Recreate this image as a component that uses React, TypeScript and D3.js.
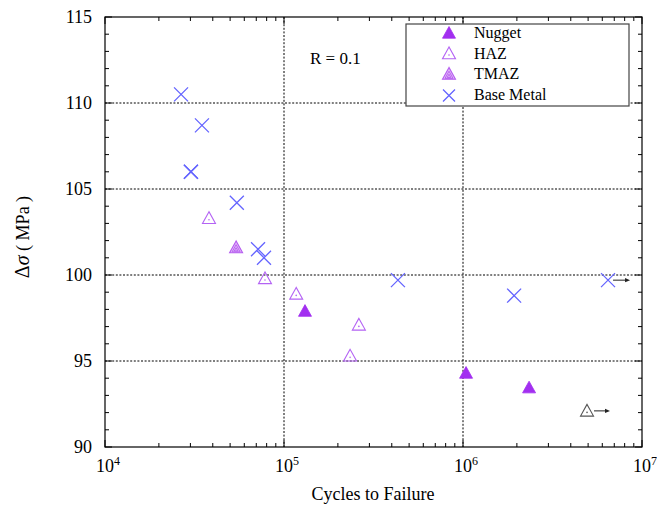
import React from "react";
import * as d3 from "d3";

// data (cycles, stress range MPa)
const nuggetCycles = [131000, 1040000, 2340000];
const nuggetStress = [97.9, 94.3, 93.45];

const hazCycles = [38100, 78300, 117000, 262000, 234000];
const hazStress = [103.3, 99.8, 98.9, 97.1, 95.3];

const tmazCycles = [54000];
const tmazStress = [101.6];

const baseCycles = [26600, 34800, 30200, 30200, 54500, 71600, 77300, 433000, 1930000, 6460000];
const baseStress = [110.5, 108.7, 106.0, 106.0, 104.2, 101.5, 101.0, 99.7, 98.8, 99.7];
const baseRunout = [false, false, false, false, false, false, false, false, false, true];

const runoutCycles = [4930000];
const runoutStress = [92.1];

const xDecades = [4, 5, 6, 7];
const yMajor = [90, 95, 100, 105, 110, 115];
const legendItems = ["Nugget", "HAZ", "TMAZ", "Base Metal"];

const W = 657;
const H = 506;
const m = { left: 105, right: 642, top: 17, bottom: 447 };
const serif = '"Liberation Serif", "DejaVu Serif", "Times New Roman", Times, serif';

const C_NUGGET = "#a22ff0";
const C_HAZ = "#b463f4";
const C_TMAZ = "#b55cf0";
const C_BASE = "#6464ff";

const tri = (cx: number, cy: number, s = 6.5) =>
  `M${cx},${cy - s}L${cx - s},${cy + s * 0.8}L${cx + s},${cy + s * 0.8}Z`;

const Cross = ({ x, y, s = 7 }: { x: number; y: number; s?: number }) => (
  <path
    d={`M${x - s},${y - s}L${x + s},${y + s}M${x - s},${y + s}L${x + s},${y - s}`}
    stroke={C_BASE}
    strokeWidth={1.3}
    fill="none"
  />
);

const Nugget = ({ x, y }: { x: number; y: number }) => <path d={tri(x, y)} fill={C_NUGGET} stroke={C_NUGGET} strokeWidth={0.8} />;

const Haz = ({ x, y, color = C_HAZ }: { x: number; y: number; color?: string }) => (
  <g>
    <path d={tri(x, y)} fill="none" stroke={color} strokeWidth={1.1} />
    <circle cx={x} cy={y + 1.5} r={0.8} fill={color} />
  </g>
);

const Tmaz = ({ x, y }: { x: number; y: number }) => (
  <g>
    <path d={tri(x, y)} fill="#e3b8f8" stroke={C_TMAZ} strokeWidth={1.1} />
    <path d={tri(x, y + 1.2, 4)} fill="none" stroke={C_TMAZ} strokeWidth={0.9} />
    <path d={tri(x, y + 2, 1.8)} fill="none" stroke={C_TMAZ} strokeWidth={0.9} />
  </g>
);

const Arrow = ({ x, y, len = 14 }: { x: number; y: number; len?: number }) => (
  <g>
    <line x1={x} y1={y} x2={x + len} y2={y} stroke="#222" strokeWidth={1} />
    <path d={`M${x + len + 3},${y}L${x + len - 2},${y - 2.2}L${x + len - 2},${y + 2.2}Z`} fill="#222" />
  </g>
);

export default function App() {
  const x = d3.scaleLog().domain([1e4, 1e7]).range([m.left, m.right]);
  const y = d3.scaleLinear().domain([90, 115]).range([m.bottom, m.top]);

  const xMinor: number[] = [];
  xDecades.slice(0, -1).forEach((d) => {
    for (let k = 2; k <= 9; k++) xMinor.push(k * Math.pow(10, d));
  });
  const yMinor = d3.range(90, 116, 1).filter((v) => v % 5 !== 0);

  const grid = "2,1.6";

  return (
    <div style={{ position: "absolute", left: 0, top: 0, fontFamily: serif }}>
      <svg width={W} height={H} style={{ display: "block", background: "#fff", fontFamily: serif }}>
        {/* grid */}
        {[1e5, 1e6].map((v) => (
          <line key={"gx" + v} x1={x(v)} x2={x(v)} y1={m.top} y2={m.bottom} stroke="#000" strokeWidth={1} strokeDasharray={grid} />
        ))}
        {[95, 100, 105, 110].map((v) => (
          <line key={"gy" + v} x1={m.left} x2={m.right} y1={y(v)} y2={y(v)} stroke="#000" strokeWidth={1} strokeDasharray={grid} />
        ))}

        {/* ticks */}
        {xMinor.map((v) => (
          <g key={"xm" + v}>
            <line x1={x(v)} x2={x(v)} y1={m.bottom} y2={m.bottom - 4} stroke="#000" />
            <line x1={x(v)} x2={x(v)} y1={m.top} y2={m.top + 4} stroke="#000" />
          </g>
        ))}
        {xDecades.map((d) => (
          <g key={"xM" + d}>
            <line x1={x(10 ** d)} x2={x(10 ** d)} y1={m.bottom} y2={m.bottom - 7} stroke="#000" />
            <line x1={x(10 ** d)} x2={x(10 ** d)} y1={m.top} y2={m.top + 7} stroke="#000" />
          </g>
        ))}
        {yMinor.map((v) => (
          <g key={"ym" + v}>
            <line x1={m.left} x2={m.left + 4} y1={y(v)} y2={y(v)} stroke="#000" />
            <line x1={m.right} x2={m.right - 4} y1={y(v)} y2={y(v)} stroke="#000" />
          </g>
        ))}
        {yMajor.map((v) => (
          <g key={"yM" + v}>
            <line x1={m.left} x2={m.left + 7} y1={y(v)} y2={y(v)} stroke="#000" />
            <line x1={m.right} x2={m.right - 7} y1={y(v)} y2={y(v)} stroke="#000" />
          </g>
        ))}

        {/* frame */}
        <rect x={m.left} y={m.top} width={m.right - m.left} height={m.bottom - m.top} fill="none" stroke="#000" strokeWidth={1.2} />

        {/* tick labels */}
        {yMajor.map((v) => (
          <text key={"yl" + v} x={92} y={y(v)} dy="0.35em" textAnchor="end" fontSize={18} fill="#000">
            {v}
          </text>
        ))}
        {xDecades.map((d) => (
          <text key={"xl" + d} x={x(10 ** d) - 9} y={472} fontSize={18} fill="#000">
            10
            <tspan dy={-7} fontSize={12}>
              {d}
            </tspan>
          </text>
        ))}

        {/* axis titles */}
        <text x={373} y={500} textAnchor="middle" fontSize={18} fill="#000">
          Cycles to Failure
        </text>
        <text transform={`translate(29,${237}) rotate(-90)`} textAnchor="middle" fontSize={20} fill="#000">
          Δ<tspan fontStyle="italic">σ</tspan>
          <tspan fontSize={18}> ( MPa )</tspan>
        </text>

        <text x={310} y={64} fontSize={17} fill="#000">
          R = 0.1
        </text>

        {/* data */}
        {baseCycles.map((c, i) => (
          <g key={"b" + i}>
            <Cross x={x(c)} y={y(baseStress[i])} />
            {baseRunout[i] && <Arrow x={x(c) + 5} y={y(baseStress[i])} />}
          </g>
        ))}
        {hazCycles.map((c, i) => (
          <Haz key={"h" + i} x={x(c)} y={y(hazStress[i])} />
        ))}
        {tmazCycles.map((c, i) => (
          <Tmaz key={"t" + i} x={x(c)} y={y(tmazStress[i])} />
        ))}
        {nuggetCycles.map((c, i) => (
          <Nugget key={"n" + i} x={x(c)} y={y(nuggetStress[i])} />
        ))}
        {runoutCycles.map((c, i) => (
          <g key={"r" + i}>
            <Haz x={x(c)} y={y(runoutStress[i])} color="#555" />
            <Arrow x={x(c) + 7} y={y(runoutStress[i])} len={13} />
          </g>
        ))}

        {/* legend */}
        <g>
          <rect x={406} y={24} width={223} height={82} fill="#fff" stroke="#444" strokeWidth={1.2} />
          {legendItems.map((name, i) => {
            const ly = 33 + i * 20.5;
            const lx = 449;
            return (
              <g key={name}>
                {i === 0 && <Nugget x={lx} y={ly} />}
                {i === 1 && <Haz x={lx} y={ly} />}
                {i === 2 && <Tmaz x={lx} y={ly} />}
                {i === 3 && <Cross x={lx} y={ly + 1} s={6} />}
                <text x={474} y={ly + 5} fontSize={16} fill="#000">
                  {name}
                </text>
              </g>
            );
          })}
        </g>
      </svg>
    </div>
  );
}
